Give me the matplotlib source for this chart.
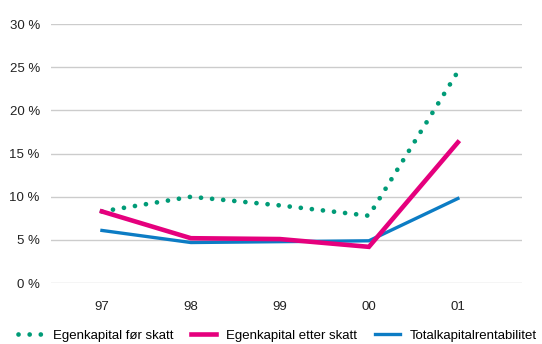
import matplotlib.pyplot as plt
import numpy as np

years = ["97", "98", "99", "00", "01"]
ek_for_skatt = [8.3, 10.0, 9.0, 7.8, 24.5]
ek_etter_skatt = [8.3, 5.2, 5.1, 4.2, 16.3]
totalkapital = [6.1, 4.7, 4.8, 4.9, 9.8]
yticks = [0, 5, 10, 15, 20, 25, 30]

GREEN = "#009b77"
PINK = "#e5007d"
BLUE = "#0c7cc4"

plt.rcParams["font.family"] = ["Liberation Sans", "DejaVu Sans"]

fig = plt.figure(figsize=(5.42, 3.44), dpi=100)
ax = fig.add_axes([0.094, 0.177, 0.869, 0.753])

x = np.arange(len(years))
ax.plot(x, ek_for_skatt, color=GREEN, lw=3.4, linestyle=(0, (0.01, 2.35)),
        dash_capstyle="round", solid_capstyle="round", clip_on=False,
        label="Egenkapital før skatt", zorder=3)
ax.plot(x, ek_etter_skatt, color=PINK, lw=3.3, solid_joinstyle="miter",
        clip_on=False, label="Egenkapital etter skatt", zorder=4)
ax.plot(x, totalkapital, color=BLUE, lw=2.4, clip_on=False,
        label="Totalkapitalrentabilitet", zorder=2)

ax.set_xlim(-0.573, 4.72)
ax.set_ylim(0, 30)
ax.set_xticks(x)
ax.set_xticklabels(years)
ax.set_yticks(yticks)
ax.set_yticklabels([f"{v} %" for v in yticks])
ax.tick_params(axis="both", length=0, labelsize=9.5, colors="#222222")
ax.tick_params(axis="y", pad=8)
ax.tick_params(axis="x", pad=13)
ax.grid(axis="y", color="#cccccc", lw=1.0)
ax.set_axisbelow(True)
for s in ax.spines.values():
    s.set_visible(False)

fig.legend(*ax.get_legend_handles_labels(), loc="center left",
           bbox_to_anchor=(0.033, 0.025), ncol=3, frameon=False,
           fontsize=9.5, handlelength=1.9, handletextpad=0.75,
           columnspacing=1.35, borderpad=0.0, borderaxespad=0.0)

fig.savefig("out.png", dpi=100)
